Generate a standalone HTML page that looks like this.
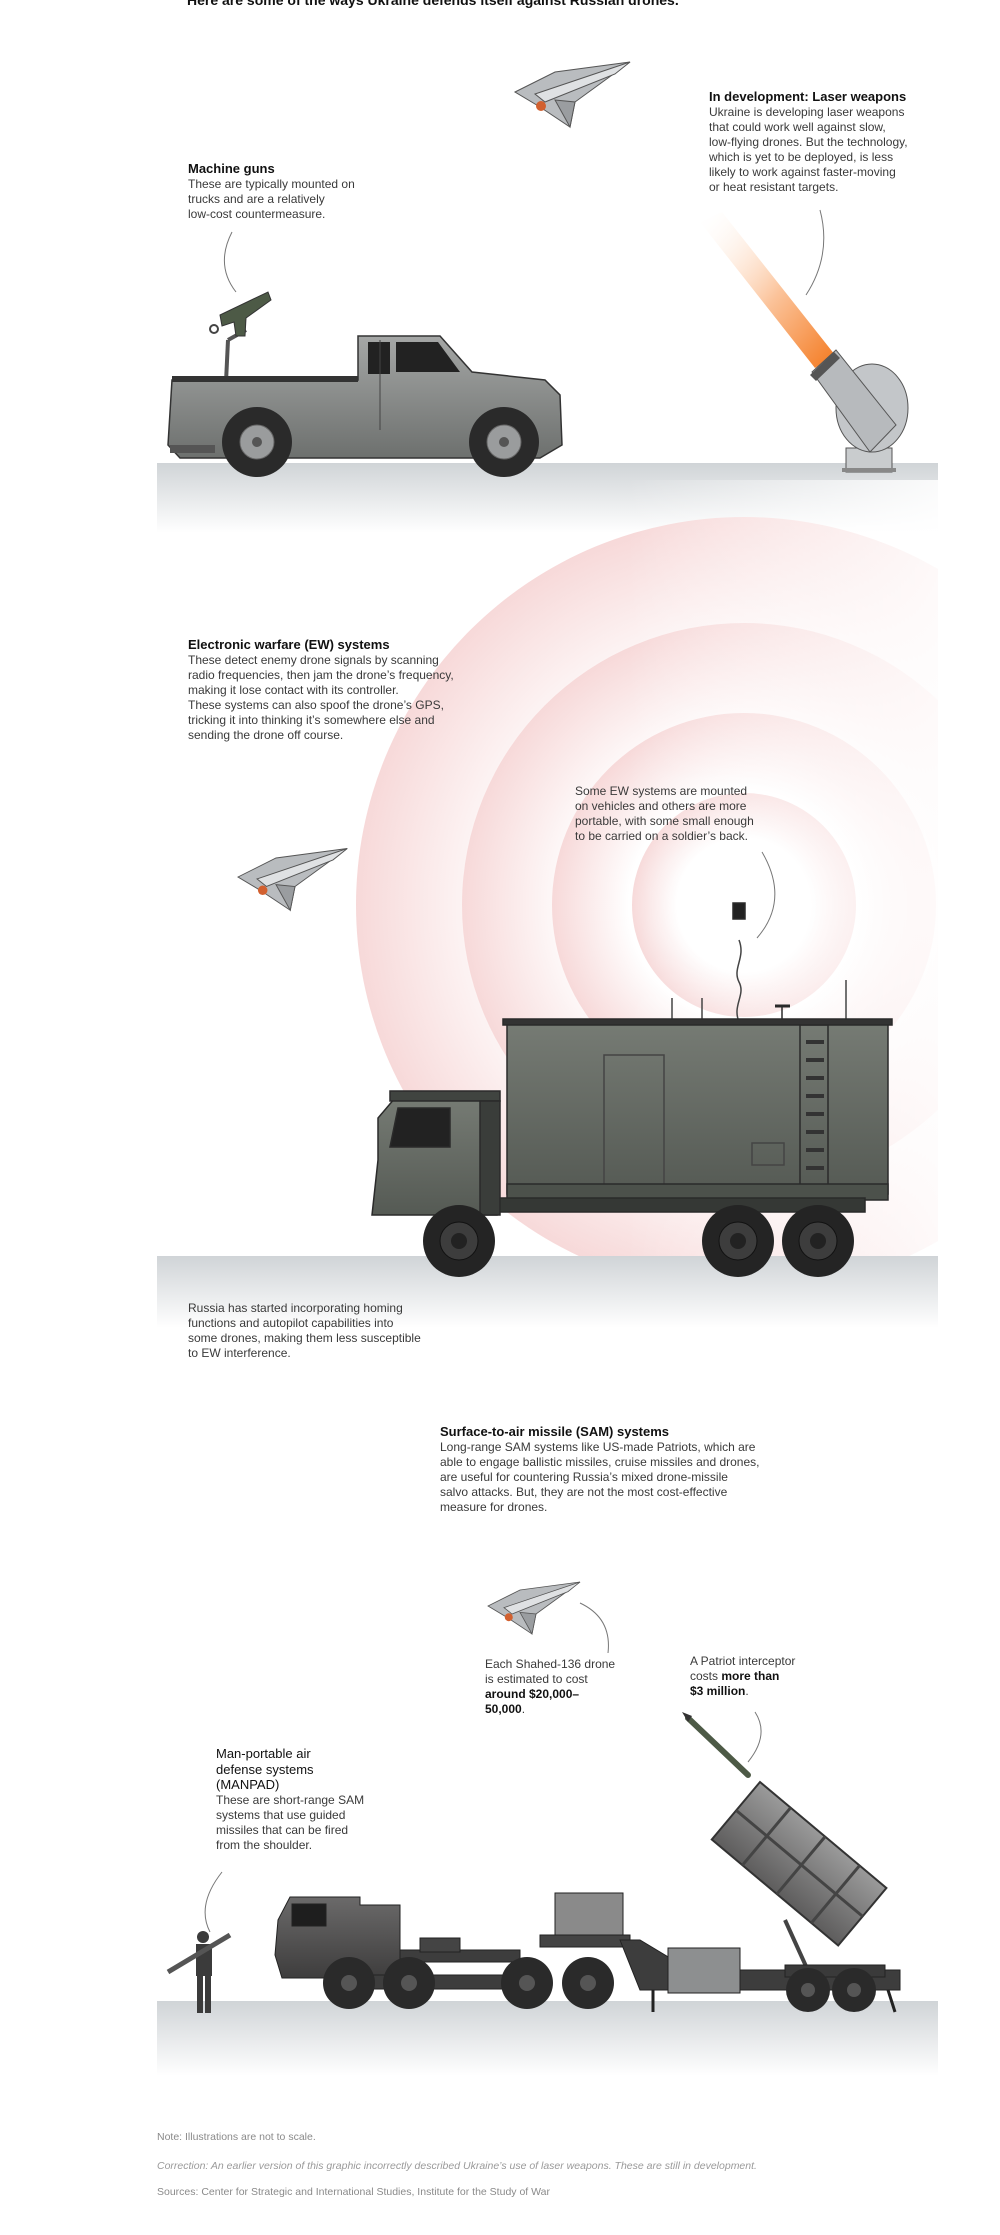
<!DOCTYPE html>
<html><head><meta charset="utf-8">
<style>
html,body{margin:0;padding:0;background:#fff}
#wrap{position:relative;width:1000px;height:2235px;overflow:hidden;font-family:"Liberation Sans",Arial,sans-serif}
svg{position:absolute;left:0;top:0}
.t{position:absolute;font-size:12px;line-height:15px;color:#3a3a3a;white-space:nowrap}
.t b.h{display:block;color:#111;font-size:13px;line-height:17px}
.t b{color:#111}
.n{position:absolute;left:157px;font-size:10.5px;color:#8a8a8a;white-space:nowrap}
</style></head><body><div id="wrap">
<svg width="1000" height="2235" viewBox="0 0 1000 2235">
<defs>
<linearGradient id="gnd" x1="0" y1="0" x2="0" y2="1"><stop offset="0" stop-color="#d0d4d7"/><stop offset="1" stop-color="#fff"/></linearGradient>
<linearGradient id="beam" x1="0" y1="0" x2="1" y2="1"><stop offset="0" stop-color="#fff" stop-opacity="0"/><stop offset="0.55" stop-color="#fbc39a"/><stop offset="1" stop-color="#f47a20"/></linearGradient>
<radialGradient id="ring"><stop offset="0.6" stop-color="#fff"/><stop offset="1" stop-color="#f7d9d9"/></radialGradient>
<linearGradient id="fade" x1="0" y1="0" x2="1" y2="0"><stop offset="0" stop-color="#fff" stop-opacity="0"/><stop offset="0.6" stop-color="#fff" stop-opacity="0"/><stop offset="1" stop-color="#fff" stop-opacity="0.85"/></linearGradient>
<linearGradient id="pick" x1="0" y1="0" x2="0" y2="1"><stop offset="0" stop-color="#a5a7a6"/><stop offset="1" stop-color="#6d706e"/></linearGradient>
<linearGradient id="olive" x1="0" y1="0" x2="0" y2="1"><stop offset="0" stop-color="#767b74"/><stop offset="1" stop-color="#555a54"/></linearGradient>
<linearGradient id="dk" x1="0" y1="0" x2="0" y2="1"><stop offset="0" stop-color="#6b6a6a"/><stop offset="1" stop-color="#3e3d3d"/></linearGradient>
<linearGradient id="lg" x1="0" y1="0" x2="0" y2="1"><stop offset="0" stop-color="#9a9a9a"/><stop offset="1" stop-color="#5e5d5d"/></linearGradient>
<clipPath id="ewclip"><rect x="157" y="480" width="781" height="778"/></clipPath>
<g id="drone">
<polygon points="0,20 40,0 115,-10 60,30 55,55 25,35" fill="#b9bcbf" stroke="#555" stroke-width="1"/>
<polygon points="20,22 115,-10 100,2 30,30" fill="#dfe1e3" stroke="#555" stroke-width="1"/>
<polygon points="40,28 60,30 55,55" fill="#9a9da0" stroke="#555" stroke-width="1"/>
<circle cx="26" cy="34" r="5" fill="#d2602f"/>
</g>
</defs>

<rect x="157" y="463" width="781" height="70" fill="url(#gnd)"/>
<use href="#drone" transform="translate(515,72)"/>
<polygon points="700,222 722,212 835,355 815,368" fill="url(#beam)"/>
<rect x="846" y="448" width="46" height="24" fill="#c9ccce" stroke="#555"/>
<rect x="842" y="468" width="54" height="4" fill="#888"/>
<ellipse cx="872" cy="408" rx="36" ry="44" fill="#c3c6c9" stroke="#555"/>
<polygon points="812,372 836,350 896,425 870,452" fill="#b7babd" stroke="#555"/>
<polygon points="810,375 834,352 840,358 816,381" fill="#555"/>
<path d="M232,232 Q215,265 236,292" fill="none" stroke="#777"/>
<path d="M820,210 Q832,255 806,295" fill="none" stroke="#777"/>
<line x1="226" y1="382" x2="228" y2="340" stroke="#555" stroke-width="4"/>
<line x1="228" y1="340" x2="246" y2="330" stroke="#555" stroke-width="4"/>
<polygon points="220,315 268,292 271,300 246,318 245,336 236,336 234,322 222,326" fill="#4d5a46" stroke="#333"/>
<circle cx="214" cy="329" r="4" fill="none" stroke="#444" stroke-width="2"/>
<path d="M172,380 L358,380 L358,336 L440,336 L472,372 L545,380 L560,395 L562,445 L540,458 L180,458 L168,445 Z" fill="url(#pick)" stroke="#333" stroke-width="1.5"/>
<rect x="172" y="376" width="186" height="6" fill="#333"/>
<path d="M368,342 L390,342 L390,374 L368,374 Z" fill="#222"/>
<path d="M396,342 L438,342 L460,372 L396,372 Z" fill="#222"/>
<line x1="380" y1="340" x2="380" y2="430" stroke="#444"/>
<rect x="170" y="445" width="45" height="8" fill="#555"/>
<g fill="#2a2a2a"><circle cx="257" cy="442" r="35"/><circle cx="504" cy="442" r="35"/></g>
<g fill="#9a9c9d" stroke="#666"><circle cx="257" cy="442" r="17"/><circle cx="504" cy="442" r="17"/></g>
<g fill="#555"><circle cx="257" cy="442" r="5"/><circle cx="504" cy="442" r="5"/></g>

<g clip-path="url(#ewclip)">
<circle cx="744" cy="905" r="388" fill="url(#ring)"/>
<circle cx="744" cy="905" r="282" fill="url(#ring)"/>
<circle cx="744" cy="905" r="192" fill="url(#ring)"/>
<circle cx="744" cy="905" r="112" fill="url(#ring)"/>
<rect x="157" y="480" width="781" height="778" fill="url(#fade)"/>
</g>
<rect x="157" y="1256" width="781" height="72" fill="url(#gnd)"/>
<use href="#drone" transform="translate(238,858) scale(0.95)"/>
<path d="M762,852 Q790,900 757,938" fill="none" stroke="#777"/>
<g stroke="#2a2a2a" stroke-width="1.5">
<line x1="672" y1="1022" x2="672" y2="998" stroke="#444"/>
<line x1="702" y1="1022" x2="702" y2="998" stroke="#444"/>
<line x1="846" y1="1022" x2="846" y2="980" stroke="#444"/>
<line x1="782" y1="1022" x2="782" y2="1006"/>
<line x1="775" y1="1006" x2="790" y2="1006" stroke-width="3"/>
<path d="M739,1022 C732,1005 746,995 739,982 C732,968 746,958 739,940" fill="none" stroke="#444"/>
<rect x="733" y="903" width="12" height="16" fill="#222"/>
<rect x="507" y="1022" width="381" height="172" fill="url(#olive)"/>
<rect x="503" y="1019" width="389" height="6" fill="#333"/>
<rect x="604" y="1055" width="60" height="130" fill="none" stroke="#444"/>
<rect x="752" y="1143" width="32" height="22" fill="none" stroke="#444"/>
<rect x="800" y="1025" width="28" height="160" fill="none"/>
<rect x="507" y="1184" width="381" height="16" fill="#4c514b"/>
<rect x="490" y="1198" width="375" height="14" fill="#353835"/>
<path d="M378,1160 L378,1118 L395,1098 L495,1098 L497,1215 L372,1215 Z" fill="url(#olive)"/>
<rect x="390" y="1091" width="110" height="10" fill="#404440"/>
<path d="M398,1108 L450,1108 L450,1147 L390,1147 Z" fill="#222"/>
<rect x="480" y="1101" width="20" height="114" fill="#3a3d3a"/>
</g>
<g fill="#333">
<rect x="806" y="1040" width="18" height="4"/><rect x="806" y="1058" width="18" height="4"/><rect x="806" y="1076" width="18" height="4"/><rect x="806" y="1094" width="18" height="4"/><rect x="806" y="1112" width="18" height="4"/><rect x="806" y="1130" width="18" height="4"/><rect x="806" y="1148" width="18" height="4"/><rect x="806" y="1166" width="18" height="4"/>
</g>
<g fill="#242424"><circle cx="459" cy="1241" r="36"/><circle cx="738" cy="1241" r="36"/><circle cx="818" cy="1241" r="36"/></g>
<g fill="#3d3d3d" stroke="#111"><circle cx="459" cy="1241" r="19"/><circle cx="738" cy="1241" r="19"/><circle cx="818" cy="1241" r="19"/></g>
<g fill="#222"><circle cx="459" cy="1241" r="8"/><circle cx="738" cy="1241" r="8"/><circle cx="818" cy="1241" r="8"/></g>

<rect x="157" y="2001" width="781" height="75" fill="url(#gnd)"/>
<use href="#drone" transform="translate(488,1590) scale(0.8)"/>
<path d="M580,1603 Q612,1618 608,1653" fill="none" stroke="#777"/>
<path d="M755,1712 Q770,1735 748,1762" fill="none" stroke="#777"/>
<path d="M222,1872 Q196,1905 210,1932" fill="none" stroke="#777"/>
<line x1="688" y1="1718" x2="748" y2="1775" stroke="#4d5a46" stroke-width="6" stroke-linecap="round"/>
<polygon points="682,1712 692,1716 688,1722" fill="#333"/>
<g transform="translate(760,1782) rotate(40)">
<rect x="0" y="0" width="165" height="75" fill="url(#lg)" stroke="#333" stroke-width="2"/>
<g stroke="#444" stroke-width="3"><line x1="40" y1="0" x2="40" y2="75"/><line x1="85" y1="0" x2="85" y2="75"/><line x1="130" y1="0" x2="130" y2="75"/><line x1="0" y1="37" x2="165" y2="37"/></g>
</g>
<line x1="785" y1="1920" x2="810" y2="1975" stroke="#444" stroke-width="4"/>
<g stroke="#222" stroke-width="1">
<path d="M278,1920 L290,1897 L360,1897 L360,1905 L400,1905 L400,1978 L282,1978 L275,1955 Z" fill="url(#dk)"/>
<rect x="292" y="1904" width="34" height="22" fill="#1e1e1e"/>
<rect x="330" y="1975" width="210" height="14" fill="#3d3d3d"/>
<rect x="400" y="1950" width="120" height="12" fill="#3d3d3d"/>
<rect x="420" y="1938" width="40" height="14" fill="#444"/>
<rect x="555" y="1893" width="68" height="42" fill="#8a8a8a"/>
<rect x="540" y="1935" width="90" height="12" fill="#444"/>
<polygon points="620,1940 640,1990 900,1990 900,1970 690,1970 640,1940" fill="#3d3d3d"/>
<rect x="668" y="1948" width="72" height="45" fill="#8d8f90"/>
<rect x="785" y="1965" width="100" height="12" fill="#3a3a3a"/>
<line x1="653" y1="1990" x2="653" y2="2012" stroke-width="3"/>
<line x1="888" y1="1990" x2="895" y2="2012" stroke-width="3"/>
</g>
<g fill="#2a2a2a"><circle cx="349" cy="1983" r="26"/><circle cx="409" cy="1983" r="26"/><circle cx="527" cy="1983" r="26"/><circle cx="588" cy="1983" r="26"/><circle cx="808" cy="1990" r="22"/><circle cx="854" cy="1990" r="22"/></g>
<g fill="#555"><circle cx="349" cy="1983" r="8"/><circle cx="409" cy="1983" r="8"/><circle cx="527" cy="1983" r="8"/><circle cx="588" cy="1983" r="8"/><circle cx="808" cy="1990" r="7"/><circle cx="854" cy="1990" r="7"/></g>
<g fill="#3b3b3b">
<circle cx="203" cy="1937" r="6"/>
<rect x="196" y="1944" width="16" height="32"/>
<rect x="197" y="1975" width="6" height="38"/><rect x="205" y="1975" width="6" height="38"/>
<line x1="168" y1="1972" x2="230" y2="1935" stroke="#555" stroke-width="5"/>
</g>
</svg>

<div class="t" style="left:187px;top:-7px;font-size:14px;font-weight:bold;color:#111">Here are some of the ways Ukraine defends itself against Russian drones.</div>
<div class="t" style="left:188px;top:160px"><b class="h">Machine guns</b>These are typically mounted on<br>trucks and are a relatively<br>low-cost countermeasure.</div>
<div class="t" style="left:709px;top:88px"><b class="h">In development: Laser weapons</b>Ukraine is developing laser weapons<br>that could work well against slow,<br>low-flying drones. But the technology,<br>which is yet to be deployed, is less<br>likely to work against faster-moving<br>or heat resistant targets.</div>
<div class="t" style="left:188px;top:636px"><b class="h">Electronic warfare (EW) systems</b>These detect enemy drone signals by scanning<br>radio frequencies, then jam the drone’s frequency,<br>making it lose contact with its controller.<br>These systems can also spoof the drone’s GPS,<br>tricking it into thinking it’s somewhere else and<br>sending the drone off course.</div>
<div class="t" style="left:575px;top:784px">Some EW systems are mounted<br>on vehicles and others are more<br>portable, with some small enough<br>to be carried on a soldier’s back.</div>
<div class="t" style="left:188px;top:1301px">Russia has started incorporating homing<br>functions and autopilot capabilities into<br>some drones, making them less susceptible<br>to EW interference.</div>
<div class="t" style="left:440px;top:1423px"><b class="h">Surface-to-air missile (SAM) systems</b>Long-range SAM systems like US-made Patriots, which are<br>able to engage ballistic missiles, cruise missiles and drones,<br>are useful for countering Russia’s mixed drone-missile<br>salvo attacks. But, they are not the most cost-effective<br>measure for drones.</div>
<div class="t" style="left:485px;top:1657px">Each Shahed-136 drone<br>is estimated to cost<br><b>around $20,000–<br>50,000</b>.</div>
<div class="t" style="left:690px;top:1654px">A Patriot interceptor<br>costs <b>more than<br>$3 million</b>.</div>
<div class="t" style="left:216px;top:1746px"><b class="h" style="font-weight:normal;color:#111;line-height:15.5px">Man-portable air<br>defense systems<br>(MANPAD)</b>These are short-range SAM<br>systems that use guided<br>missiles that can be fired<br>from the shoulder.</div>
<div class="n" style="top:2131px">Note: Illustrations are not to scale.</div>
<div class="n" style="top:2160px;font-style:italic;color:#9a9a9a">Correction: An earlier version of this graphic incorrectly described Ukraine’s use of laser weapons. These are still in development.</div>
<div class="n" style="top:2186px">Sources: Center for Strategic and International Studies, Institute for the Study of War</div>
</div></body></html>
